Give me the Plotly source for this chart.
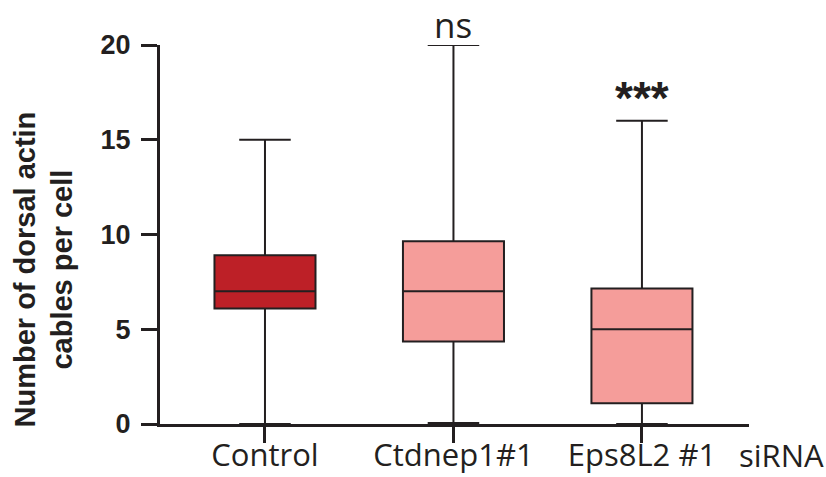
import plotly.graph_objects as go

categories = ["Control", "Ctdnep1#1", "Eps8L2 #1"]
q1 = [6.1, 4.35, 1.1]
median = [7.0, 7.0, 5.0]
q3 = [8.9, 9.65, 7.15]
lowerfence = [0.0, 0.05, 0.0]
upperfence = [15.0, 20.0, 16.0]
fill_colors = ["#BD2027", "#F59D9A", "#F59D9A"]
sig_labels = ["", "ns", "***"]
y_ticks = [0, 5, 10, 15, 20]

ink = "#231F20"
fig = go.Figure()
for i, cat in enumerate(categories):
    fig.add_trace(go.Box(
        x=[i], q1=[q1[i]], median=[median[i]], q3=[q3[i]],
        lowerfence=[lowerfence[i]], upperfence=[upperfence[i]],
        fillcolor=fill_colors[i],
        line=dict(color=ink, width=2),
        width=0.536, whiskerwidth=0.51,
        boxpoints=False, showlegend=False, hoverinfo="skip",
    ))

fig.update_layout(
    width=826, height=477,
    margin=dict(l=160, r=77, t=45, b=53),
    plot_bgcolor="white", paper_bgcolor="white",
    boxmode="overlay",
    xaxis=dict(
        range=[-0.557, 2.568], tickmode="array",
        tickvals=list(range(len(categories))), ticktext=categories,
        showline=True, linecolor=ink, linewidth=3,
        ticks="outside", ticklen=16, tickwidth=3, tickcolor=ink,
        tickfont=dict(family="Open Sans", size=31, color=ink),
        ticklabelstandoff=-14,
        showgrid=False, zeroline=False, automargin=False,
    ),
    yaxis=dict(
        range=[0, 20], tickmode="array", tickvals=y_ticks,
        ticktext=[str(v) for v in y_ticks],
        showline=True, linecolor=ink, linewidth=3,
        ticks="outside", ticklen=16, tickwidth=2.5, tickcolor=ink,
        tickfont=dict(family="Liberation Sans", size=27, color=ink, weight="bold"),
        ticklabelstandoff=5,
        showgrid=False, zeroline=False, automargin=False,
    ),
)

annotations = []
for i, lab in enumerate(sig_labels):
    if not lab:
        continue
    if lab == "ns":
        annotations.append(dict(
            x=i, xref="x", y=(424 - 24) / 379, yref="paper",
            text=lab, showarrow=False, xanchor="center", yanchor="middle",
            font=dict(family="Open Sans", size=35, color=ink)))
    else:
        annotations.append(dict(
            x=i, xref="x", y=(424 - 98) / 379, yref="paper",
            text=lab, showarrow=False, xanchor="center", yanchor="middle",
            font=dict(family="Liberation Sans", size=46, color=ink, weight="bold")))

annotations.append(dict(
    x=(737 - 160) / 589, xref="paper", y=(424 - 455) / 379, yref="paper",
    text="siRNA", showarrow=False, xanchor="left", yanchor="middle",
    font=dict(family="Open Sans", size=31, color=ink)))

annotations.append(dict(
    x=(43.5 - 160) / 589, xref="paper", y=(424 - 270) / 379, yref="paper",
    text="Number of dorsal actin<br>cables per cell", showarrow=False,
    textangle=-90, xanchor="center", yanchor="middle",
    font=dict(family="Liberation Sans", size=29, color=ink, weight="bold")))

fig.update_layout(annotations=annotations)
fig.write_html("out.html")
